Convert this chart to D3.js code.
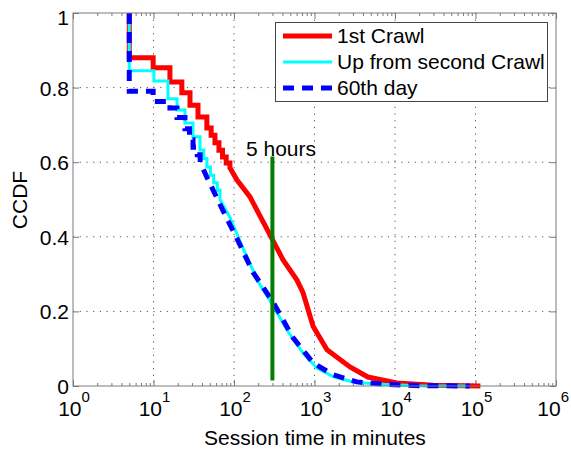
<!DOCTYPE html>
<html><head><meta charset="utf-8">
<script src="https://cdn.jsdelivr.net/npm/d3@7/dist/d3.min.js"></script>
<style>body{margin:0;background:#fff}svg{display:block}text{font-family:"Liberation Sans",Arial,sans-serif}</style>
</head><body>
<svg id="c" width="571" height="449"></svg>
<script>
// ---- data ----
const seriesNames = ["1st Crawl", "Up from second Crawl", "60th day"];
const firstCrawl = [[5,1],[5,0.88],[9.9,0.88],[9.9,0.853],[16,0.853],[16,0.815],[22.5,0.815],[22.5,0.786],[28.4,0.786],[28.4,0.753],[35.7,0.753],[35.7,0.721],[46,0.721],[46,0.692],[52,0.692],[52,0.672],[58,0.672],[58,0.652],[65,0.652],[65,0.632],[72,0.632],[72,0.614],[80,0.614],[80,0.598],[89,0.598],[89,0.585],[109,0.552],[158,0.507],[280,0.405],[407,0.338],[605,0.284],[720,0.25],[960,0.16],[1430,0.097],[2760,0.051],[4600,0.024],[10500,0.008],[30000,0.002],[115000,0]];
const secondCrawl = [[5,1],[5,0.845],[10.1,0.845],[10.1,0.818],[15.1,0.818],[15.1,0.77],[19.6,0.77],[19.6,0.74],[24.6,0.74],[24.6,0.705],[30.9,0.705],[30.9,0.668],[37.8,0.668],[37.8,0.633],[42,0.633],[42,0.61],[46,0.61],[46,0.587],[51,0.587],[51,0.565],[56,0.565],[56,0.545],[62,0.545],[62,0.525],[67,0.525],[67,0.5],[90,0.45],[129,0.37],[199,0.28],[297,0.22],[455,0.15],[720,0.088],[1070,0.048],[1700,0.025],[3000,0.011],[6500,0.005],[20000,0.001],[85000,0]];
const day60 = [[5,1],[5,0.79],[9.9,0.79],[9.9,0.763],[16,0.763],[16,0.745],[19.6,0.745],[19.6,0.72],[24.6,0.72],[24.6,0.69],[28,0.69],[28,0.66],[31,0.66],[31,0.64],[35,0.64],[35,0.62],[38,0.62],[38,0.6],[46,0.56],[58,0.515],[77,0.46],[109,0.395],[172,0.305],[305,0.225],[540,0.13],[960,0.062],[1700,0.03],[3360,0.011],[8000,0.004],[20000,0.001],[85000,0]];
const markerTime = 300; // 5 hours
const markerRange = [0.015, 0.615];
const markerLabel = "5 hours";
const xTickExps = [0,1,2,3,4,5,6];
const yTicks = [0,0.2,0.4,0.6,0.8,1];
const yTickLabels = ["0","0.2","0.4","0.6","0.8","1"];

// ---- layout ----
const svg = d3.select("#c");
const L=73, R=556, T=13, B=386;
const x = d3.scaleLog().domain([1,1e6]).range([L,R]);
const y = d3.scaleLinear().domain([0,1]).range([B,T]);
const axisCol = "#7a7a7a";
const FS = 21;

// grid
const grid = svg.append("g").attr("stroke","#555").attr("stroke-width",1).attr("stroke-dasharray","1.2,5.5");
xTickExps.slice(1,-1).forEach(e=>grid.append("line").attr("x1",x(10**e)).attr("x2",x(10**e)).attr("y1",T).attr("y2",B));
yTicks.slice(1,-1).forEach(v=>grid.append("line").attr("x1",L).attr("x2",R).attr("y1",y(v)).attr("y2",y(v)));

// axes via d3
const minor = [];
for (let e=0;e<6;e++) for (let k=2;k<=9;k++) minor.push(k*10**e);
const major = xTickExps.map(e=>10**e);
function styleAxis(g){ g.select(".domain").remove(); g.selectAll("line").attr("stroke",axisCol); g.selectAll("text").remove(); }
svg.append("g").attr("transform",`translate(0,${B})`).call(d3.axisTop(x).tickValues(minor).tickSize(3)).call(styleAxis);
svg.append("g").attr("transform",`translate(0,${B})`).call(d3.axisTop(x).tickValues(major).tickSize(6)).call(styleAxis);
svg.append("g").attr("transform",`translate(0,${T})`).call(d3.axisBottom(x).tickValues(minor).tickSize(3)).call(styleAxis);
svg.append("g").attr("transform",`translate(0,${T})`).call(d3.axisBottom(x).tickValues(major).tickSize(6)).call(styleAxis);
svg.append("g").attr("transform",`translate(${L},0)`).call(d3.axisRight(y).tickValues(yTicks).tickSize(6)).call(styleAxis);
svg.append("g").attr("transform",`translate(${R},0)`).call(d3.axisLeft(y).tickValues(yTicks).tickSize(6)).call(styleAxis);

// tick labels
yTicks.forEach((v,i)=>svg.append("text").attr("x",L-4).attr("y",y(v)+(v===1?12:8)).attr("text-anchor","end").attr("font-size",FS).text(yTickLabels[i]));
xTickExps.forEach((e,i)=>{
  const last = i===xTickExps.length-1;
  const t = svg.append("text").attr("x",last?569:x(10**e)+1).attr("y",416).attr("text-anchor",last?"end":"middle").attr("font-size",FS);
  t.append("tspan").text("10");
  t.append("tspan").attr("dy",-14).attr("font-size",15).text(e);
});
svg.append("text").attr("x",315).attr("y",445).attr("text-anchor","middle").attr("font-size",FS).text("Session time in minutes");
svg.append("text").attr("transform","translate(27,200) rotate(-90)").attr("text-anchor","middle").attr("font-size",FS).text("CCDF");

// lines
const line = d3.line().x(d=>x(d[0])).y(d=>y(d[1]));
svg.append("path").datum(firstCrawl).attr("d",line).attr("fill","none").attr("stroke","#ff0000").attr("stroke-width",5);
svg.append("path").datum(secondCrawl).attr("d",line).attr("fill","none").attr("stroke","#00ffff").attr("stroke-width",3);
svg.append("path").datum(day60).attr("d",line).attr("fill","none").attr("stroke","#0000ff").attr("stroke-width",5).attr("stroke-dasharray","11,8");

// marker
svg.append("line").attr("x1",x(markerTime)).attr("x2",x(markerTime)).attr("y1",y(markerRange[0])).attr("y2",y(markerRange[1])).attr("stroke","#007f00").attr("stroke-width",4);
svg.append("text").attr("x",281).attr("y",156).attr("text-anchor","middle").attr("font-size",FS).text(markerLabel);

// box
svg.append("rect").attr("x",L).attr("y",T).attr("width",R-L).attr("height",B-T).attr("fill","none").attr("stroke",axisCol).attr("stroke-width",1);

// legend
const lg = svg.append("g");
lg.append("rect").attr("x",275.5).attr("y",22.5).attr("width",272).attr("height",79).attr("fill","#fff").attr("stroke","#444").attr("stroke-width",1);
const lstyles = [{c:"#ff0000",w:5,d:null},{c:"#00ffff",w:3,d:null},{c:"#0000ff",w:5,d:"11,8"}];
seriesNames.forEach((n,i)=>{
  const yy = 36+i*26;
  lg.append("line").attr("x1",283).attr("x2",332).attr("y1",yy).attr("y2",yy).attr("stroke",lstyles[i].c).attr("stroke-width",lstyles[i].w).attr("stroke-dasharray",lstyles[i].d);
  lg.append("text").attr("x",337).attr("y",yy+7).attr("font-size",FS).text(n);
});
</script>
</body></html>
